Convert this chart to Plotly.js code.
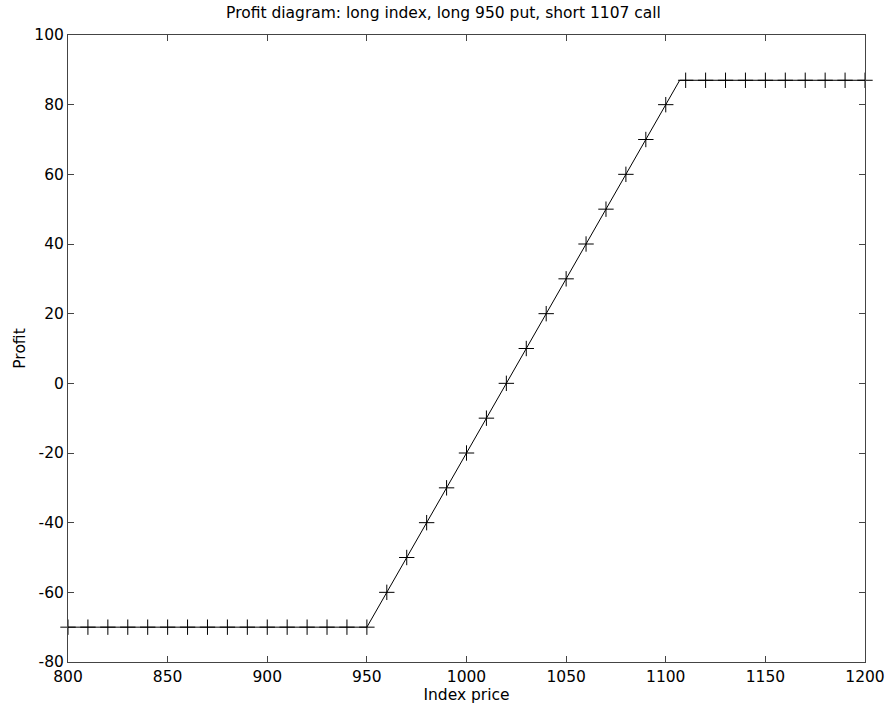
<!DOCTYPE html>
<html>
<head>
<meta charset="utf-8">
<script src="https://cdn.plot.ly/plotly-3.0.1.min.js"></script>
<style>html,body{margin:0;padding:0;background:#fff;}#chart{width:887px;height:711px;}</style>
</head>
<body>
<div id="chart"></div>
<script>
// Profit line breakpoints (kinks at put strike 950 and call strike 1107)
const lineX = [800, 950, 1107, 1200];
const lineY = [-70, -70, 87, 87];

// Marker points every 10 index points
const markX = [800, 810, 820, 830, 840, 850, 860, 870, 880, 890, 900, 910, 920, 930, 940, 950,
  960, 970, 980, 990, 1000, 1010, 1020, 1030, 1040, 1050, 1060, 1070, 1080, 1090, 1100,
  1110, 1120, 1130, 1140, 1150, 1160, 1170, 1180, 1190, 1200];
const markY = [-70, -70, -70, -70, -70, -70, -70, -70, -70, -70, -70, -70, -70, -70, -70, -70,
  -60, -50, -40, -30, -20, -10, 0, 10, 20, 30, 40, 50, 60, 70, 80,
  87, 87, 87, 87, 87, 87, 87, 87, 87, 87];

const xTicks = [800, 850, 900, 950, 1000, 1050, 1100, 1150, 1200];
const yTicks = [-80, -60, -40, -20, 0, 20, 40, 60, 80, 100];

const titleText = "Profit diagram: long index, long 950 put, short 1107 call";
const xTitle = "Index price";
const yTitle = "Profit";

const font = "DejaVu Sans, Verdana, sans-serif";

const traces = [
  {x: lineX, y: lineY, mode: "lines", type: "scatter",
   line: {color: "#000", width: 1}, hoverinfo: "skip", cliponaxis: false},
  {x: markX, y: markY, mode: "markers", type: "scatter",
   marker: {symbol: "cross-thin-open", size: 11, color: "#000", line: {color: "#000", width: 1}},
   cliponaxis: false}
];

const axisCommon = {
  showgrid: false, zeroline: false, showline: true, linecolor: "#444", linewidth: 1,
  mirror: "ticks", ticks: "inside", ticklen: 6, tickwidth: 1, tickcolor: "#444",
  tickfont: {family: font, size: 15.5, color: "#000"}
};

const layout = {
  width: 887, height: 711,
  margin: {l: 68, r: 22, t: 35, b: 49},
  paper_bgcolor: "#fff", plot_bgcolor: "#fff",
  showlegend: false,
  title: {text: titleText, font: {family: font, size: 15.5, color: "#000"}, x: 0.5, xanchor: "center", y: 0.982, yanchor: "middle"},
  xaxis: Object.assign({}, axisCommon, {
    range: [800, 1200], tickvals: xTicks, ticktext: xTicks.map(String),
    title: {text: xTitle, font: {family: font, size: 15.5, color: "#000"}, standoff: 3}
  }),
  yaxis: Object.assign({}, axisCommon, {
    range: [-80, 100], tickvals: yTicks, ticktext: yTicks.map(String),
    title: {text: yTitle, font: {family: font, size: 15.5, color: "#000"}, standoff: 4}
  })
};

Plotly.newPlot("chart", traces, layout, {displayModeBar: false, staticPlot: true});
</script>
</body>
</html>
